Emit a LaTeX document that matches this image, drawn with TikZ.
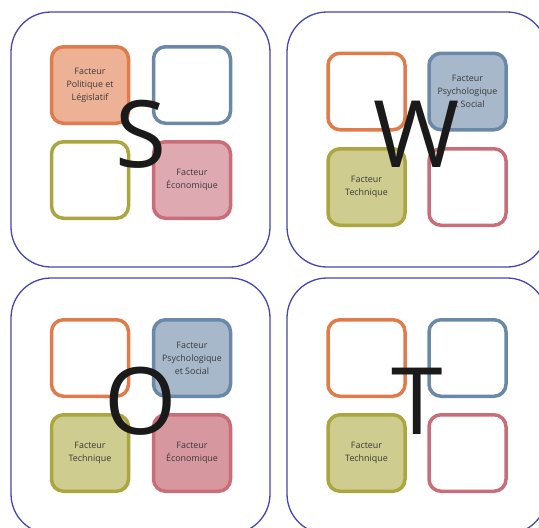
\documentclass[tikz,border=0pt]{standalone}
\usepackage{fontspec}
\setmainfont{Open Sans}
\definecolor{frameblue}{HTML}{4545B5}
\definecolor{orgline}{HTML}{E07C4B}
\definecolor{orgfill}{HTML}{EDB296}
\definecolor{blueline}{HTML}{6A89A8}
\definecolor{bluefill}{HTML}{A7B8CB}
\definecolor{oliveline}{HTML}{ABA640}
\definecolor{olivefill}{HTML}{CECC8E}
\definecolor{redline}{HTML}{C96D79}
\definecolor{redfillA}{HTML}{DFA9B2}
\definecolor{redfillB}{HTML}{D6979F}
\definecolor{txtgray}{HTML}{3A3A3A}
\definecolor{letterblack}{HTML}{1A1A1A}
\begin{document}
\begin{tikzpicture}[x=1pt,y=-1pt,
  bigbox/.style={draw=frameblue,line width=1.3pt,rounded corners=40pt,fill=white,
    inner sep=0pt,outer sep=0pt,minimum height=255pt},
  smallbox/.style={rounded corners=12pt,line width=3.5pt,inner sep=0pt,outer sep=0pt,
    minimum width=77pt,minimum height=76.5pt,fill=white,
    font=\fontsize{8.9pt}{13pt}\selectfont,text=txtgray,align=center},
  obox/.style={smallbox,draw=orgline},
  bbox/.style={smallbox,draw=blueline},
  gbox/.style={smallbox,draw=oliveline},
  rbox/.style={smallbox,draw=redline},
  bigletter/.style={font=\fontsize{93pt}{93pt}\selectfont,text=letterblack,anchor=base,inner sep=0pt}]
\useasboundingbox (0,0) rectangle (539,528);
% big frames
\node[bigbox,minimum width=259pt] (fS) at (140.5,139.5) {};
\node[bigbox,minimum width=260pt] (fW) at (417,139.5) {};
\node[bigbox,minimum width=259pt,minimum height=256pt] (fO) at (140.5,406) {};
\node[bigbox,minimum width=260pt,minimum height=256pt] (fT) at (417,406) {};
% S
\node[obox,fill=orgfill] (s1) at (90,85) {Facteur\\Politique et\\Législatif};
\node[bbox] (s2) at (192,85) {};
\node[gbox] (s3) at (90,180) {};
\node[rbox,fill=redfillA] (s4) at (192,180) {Facteur\\Économique};
% W
\node[obox] (w1) at (366.5,91.5) {};
\node[bbox,fill=bluefill] (w2) at (467.5,91.5) {Facteur\\Psychologique\\et Social};
\node[gbox,fill=olivefill] (w3) at (366.5,187) {Facteur\\Technique};
\node[rbox] (w4) at (467.5,187) {};
% O
\node[obox] (o1) at (90,358) {};
\node[bbox,fill=bluefill] (o2) at (192,358) {Facteur\\Psychologique\\et Social};
\node[gbox,fill=olivefill] (o3) at (90,453) {Facteur\\Technique};
\node[rbox,fill=redfillB] (o4) at (192,453) {Facteur\\Économique};
% T
\node[obox] (t1) at (366.5,358) {};
\node[bbox] (t2) at (467.5,358) {};
\node[gbox,fill=olivefill] (t3) at (366.5,453) {Facteur\\Technique};
\node[rbox] (t4) at (467.5,453) {};
% letters
\node[bigletter] (lS) at (141,167) {S};
\node[bigletter] (lW) at (417,167) {W};
\node[bigletter] (lO) at (141,434) {O};
\node[bigletter] (lT) at (417,434) {T};
\end{tikzpicture}
\end{document}
